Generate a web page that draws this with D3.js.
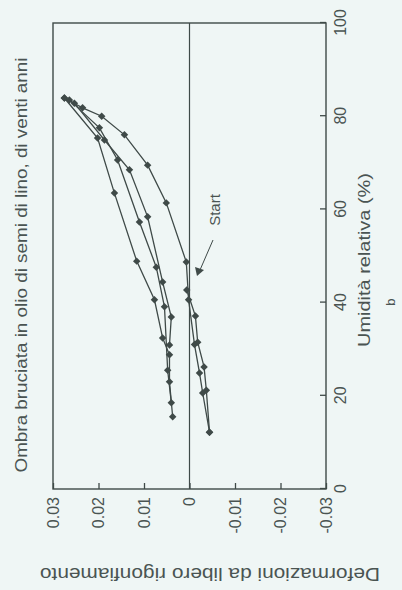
<!DOCTYPE html>
<html lang="it">
<head>
    <meta charset="UTF-8">
    <script src="https://cdn.jsdelivr.net/npm/d3@7"></script>
    <title>Ombra bruciata</title>
    <style>
        body { margin: 0; background: #eff6f5; }
        svg { display: block; }
        text { font-family: "Liberation Sans", Arial, sans-serif; fill: #4a5452; }
        .axis path, .axis line { stroke: #3f4a48; stroke-width: 1.3px; }
        .axis text { font-size: 16px; fill: #4a5452; }
    </style>
</head>
<body>
<div id="chart"></div>
<script>
    // relative humidity (%) / free swelling strain, one pair of arrays per branch
    const rh_a  = [42.7, 37.1, 31.5, 26.2, 21.2, 12.2];
    const def_a = [0.0006, -0.0013, -0.0018, -0.0032, -0.0037, -0.0044];

    const rh_b  = [12.2, 20.6, 24.9, 31.0, 40.6, 48.7, 61.4, 69.5, 76.0, 80.0, 81.8, 83.9];
    const def_b = [-0.0044, -0.0029, -0.0022, -0.0011, 0.0002, 0.0007, 0.0051, 0.0092, 0.0143, 0.0193, 0.0235, 0.0275];

    const rh_c  = [83.9, 75.3, 63.5, 48.9, 40.6, 32.4, 28.8, 23.0, 15.5];
    const def_c = [0.0275, 0.0202, 0.0165, 0.0116, 0.0077, 0.0059, 0.0044, 0.0044, 0.0037];

    const rh_d  = [83.5, 77.5, 70.6, 57.3, 47.6, 39.1, 25.5, 18.5];
    const def_d = [0.0264, 0.0198, 0.0158, 0.0110, 0.0073, 0.0055, 0.0048, 0.0040];

    const rh_e  = [82.8, 74.9, 68.5, 58.4, 44.4, 36.9, 30.9];
    const def_e = [0.0253, 0.0187, 0.0132, 0.0092, 0.0059, 0.0040, 0.0044];

    const rh_ticks = [0, 20, 40, 60, 80, 100];
    const def_ticks = [0.03, 0.02, 0.01, 0, -0.01, -0.02, -0.03];
    const def_labels = ["0.03", "0.02", "0.01", "0", "-0.01", "-0.02", "-0.03"];

    const title = "Ombra bruciata in olio di semi di lino, di venti anni";
    const x_title = "Umidità relativa (%)";
    const y_title = "Deformazioni da libero rigonfiamento";

    const series = [[rh_a, def_a], [rh_b, def_b], [rh_c, def_c], [rh_d, def_d], [rh_e, def_e]]
        .map(([rh, def]) => rh.map((h, i) => ({ rh: h, def: def[i] })));

    const W = 402, H = 590;
    const ink = "#3f4a48";

    const svg = d3.select("#chart").append("svg")
        .attr("width", W)
        .attr("height", H);

    svg.append("rect").attr("width", W).attr("height", H).attr("fill", "#eff6f5");

    // the page shows the figure turned a quarter turn; draw it upright and rotate
    const g = svg.append("g")
        .attr("transform", `translate(0,${H}) rotate(-90)`);

    const x = d3.scaleLinear().domain([0, 100]).range([101, 567]);
    const y = d3.scaleLinear().domain([-0.03, 0.03]).range([326, 53]);

    g.append("g")
        .attr("class", "axis")
        .attr("transform", `translate(0,${y(-0.03)})`)
        .call(d3.axisBottom(x).tickValues(rh_ticks).tickSizeInner(-6).tickSizeOuter(0).tickPadding(9))
        .call(a => a.select(".domain").remove());

    g.append("g")
        .attr("class", "axis")
        .attr("transform", `translate(${x(0)},0)`)
        .call(d3.axisLeft(y).tickValues(def_ticks).tickFormat((d, i) => def_labels[i])
            .tickSizeInner(-6).tickSizeOuter(0).tickPadding(8))
        .call(a => a.select(".domain").remove());

    g.append("rect")
        .attr("x", x(0)).attr("y", y(0.03))
        .attr("width", x(100) - x(0)).attr("height", y(-0.03) - y(0.03))
        .attr("fill", "none").attr("stroke", ink).attr("stroke-width", 1.4);

    g.append("line")
        .attr("x1", x(0)).attr("x2", x(100))
        .attr("y1", y(0)).attr("y2", y(0))
        .attr("stroke", ink).attr("stroke-width", 1.2);

    const line = d3.line().x(d => x(d.rh)).y(d => y(d.def));

    g.selectAll(".branch")
        .data(series)
        .enter()
        .append("path")
        .attr("class", "branch")
        .attr("d", line)
        .attr("fill", "none")
        .attr("stroke", ink)
        .attr("stroke-width", 1.3);

    const marker = d3.symbol().type(d3.symbolSquare).size(28);

    g.selectAll(".pt")
        .data(series.flat())
        .enter()
        .append("path")
        .attr("class", "pt")
        .attr("d", marker)
        .attr("transform", d => `translate(${x(d.rh)},${y(d.def)}) rotate(45)`)
        .attr("fill", ink);

    // start marker
    g.append("text")
        .attr("x", 380).attr("y", 220)
        .attr("text-anchor", "middle")
        .attr("font-size", 15)
        .text("Start");

    g.append("line")
        .attr("x1", 350).attr("y1", 213)
        .attr("x2", 320).attr("y2", 200)
        .attr("stroke", ink).attr("stroke-width", 1);

    g.append("path")
        .attr("d", "M314,197 L323,195 L320,204 Z")
        .attr("fill", ink);

    g.append("text")
        .attr("x", 325).attr("y", 27)
        .attr("text-anchor", "middle")
        .attr("font-size", 16)
        .attr("textLength", 415)
        .attr("lengthAdjust", "spacingAndGlyphs")
        .text(title);

    g.append("text")
        .attr("x", 330).attr("y", 370)
        .attr("text-anchor", "middle")
        .attr("font-size", 17)
        .attr("textLength", 174)
        .attr("lengthAdjust", "spacingAndGlyphs")
        .text(x_title);

    g.append("text")
        .attr("x", 288).attr("y", 395)
        .attr("text-anchor", "middle")
        .attr("font-size", 13)
        .text("b");

    g.append("text")
        .attr("transform", `translate(22,210) rotate(-90)`)
        .attr("text-anchor", "middle")
        .attr("font-size", 18)
        .attr("textLength", 340)
        .attr("lengthAdjust", "spacingAndGlyphs")
        .text(y_title);
</script>
</body>
</html>
